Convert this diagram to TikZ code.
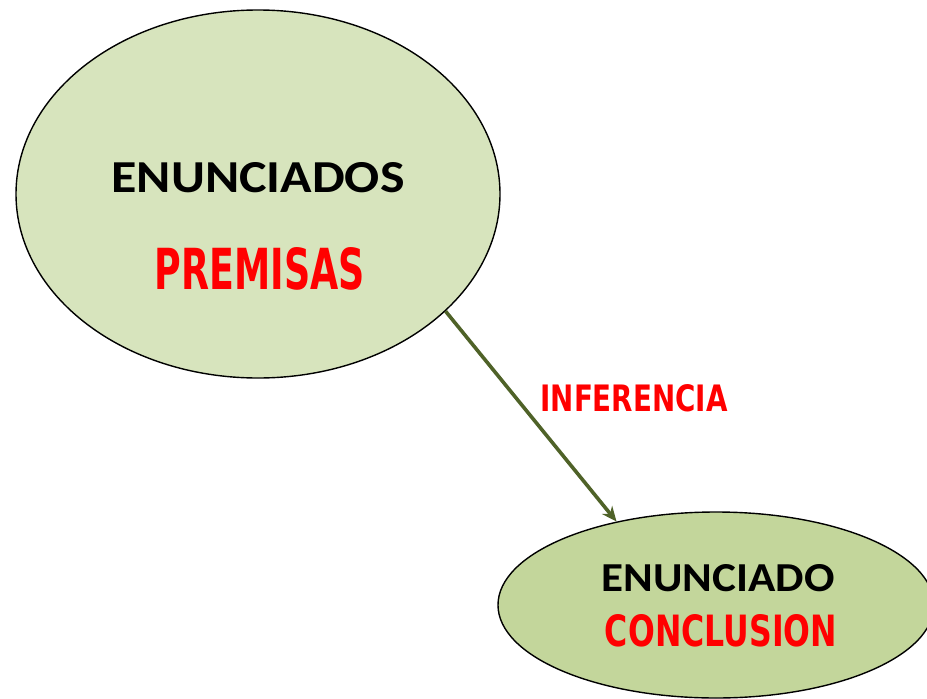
\documentclass[tikz,border=0pt]{standalone}
\usepackage{fontspec}
\setmainfont{Carlito}
\newfontfamily\handfont{DejaVu Sans}
\usetikzlibrary{shapes.geometric,arrows.meta}
\definecolor{bigfill}{HTML}{D7E4BD}
\definecolor{smallfill}{HTML}{C3D69B}
\definecolor{olivearrow}{HTML}{4F6228}
\definecolor{handred}{HTML}{FF0000}
\tikzset{
  bubble/.style={ellipse, draw=black, line width=1.4pt, inner sep=0pt},
  label/.style={inner sep=0pt, font=\bfseries},
  hand/.style={inner sep=0pt, text=handred, font=\handfont\bfseries},
  infer/.style={draw=olivearrow, line width=3.6pt, -{Stealth[length=15pt,width=13pt]}}
}
\begin{document}
\begin{tikzpicture}[x=1pt,y=-1pt]
\useasboundingbox (0,0) rectangle (927,699);
\clip (0,0) rectangle (927,699);
\node[bubble, fill=bigfill, minimum width=484pt, minimum height=368pt] (big) at (258,194) {};
\node[bubble, fill=smallfill, minimum width=436pt, minimum height=186pt] (small) at (716,605) {};
\draw[infer] (big.-32.7) -- (small.140.8);
\node[label] (t1) at (258,178) {\resizebox{293pt}{30pt}{\bfseries ENUNCIADOS}};
\node[hand] (t2) at (260,269) {\resizebox{210pt}{42pt}{\handfont\bfseries PREMISAS}};
\node[hand] (t3) at (634,398) {\resizebox{187pt}{27pt}{\handfont\bfseries INFERENCIA}};
\node[label] (t4) at (718,578) {\resizebox{233pt}{27pt}{\bfseries ENUNCIADO}};
\node[hand] (t5) at (721,631) {\resizebox{232pt}{32pt}{\handfont\bfseries CONCLUSION}};
\end{tikzpicture}
\end{document}
